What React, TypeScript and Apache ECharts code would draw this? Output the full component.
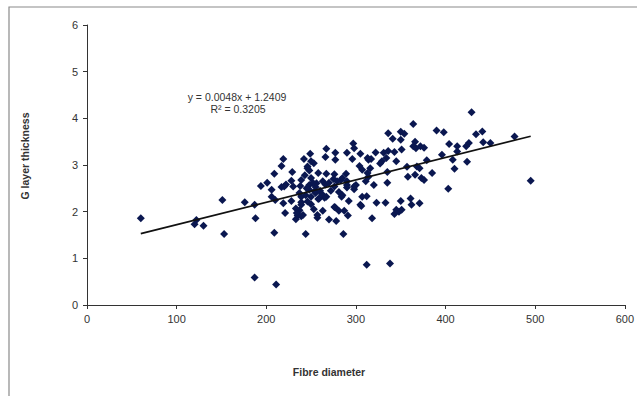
import React, { useEffect, useRef } from "react";
import * as echarts from "echarts";

const fibreDiameter = [
  60, 122, 120, 130, 153, 151, 176, 187, 188, 187, 211, 209, 210, 221, 244, 233, 235, 237, 233, 239,
  228, 253, 250, 257, 263, 270, 278, 277, 281, 287, 286, 291, 305, 292, 312, 323, 333, 350, 361, 362,
  371, 318, 343, 348, 351, 312, 338, 265, 259, 284,
  429, 495, 477, 441, 434, 450, 442, 426, 423, 413, 413, 404, 396, 408, 410, 424, 403, 390, 398, 364,
  336, 341, 350, 354, 350, 366, 364, 372, 376, 351, 343, 336, 331, 345, 329, 327, 322, 314, 305, 297,
  298, 290, 296, 277, 277, 267, 266, 317, 304, 313, 307, 335, 357, 358, 368, 371, 379, 385, 373, 376,
  335, 320, 366, 258, 267, 276, 283, 290, 290, 300, 298, 311, 256, 254, 267,
  249, 242, 219, 217, 253, 246, 248, 229, 209, 289, 201, 194, 206, 217, 222, 228, 239, 248, 255, 263,
  275, 285, 258, 250, 239, 219, 206, 234, 239, 276, 306, 307, 250, 246, 250, 220, 230, 237, 248, 266,
  276, 279, 246, 239, 241, 257, 367, 313, 334, 316, 314, 285, 290, 298, 345,
  243, 252, 245, 238, 255, 244, 260, 270, 272, 262, 281,
];

const gLayerThickness = [
  1.86, 1.82, 1.73, 1.70, 1.52, 2.25, 2.20, 2.15, 1.86, 0.59, 0.44, 1.55, 2.25, 1.97, 1.52, 1.84, 1.92, 2.03, 2.07, 2.20,
  2.23, 2.05, 2.16, 1.87, 2.02, 1.83, 1.80, 2.09, 2.02, 2.02, 1.52, 1.92, 2.15, 2.23, 2.33, 2.19, 2.19, 2.23, 2.28, 2.15,
  2.18, 1.86, 1.95, 2.00, 2.04, 0.86, 0.89, 2.30, 2.28, 2.32,
  4.13, 2.66, 3.61, 3.72, 3.66, 3.47, 3.49, 3.47, 3.40, 3.40, 3.29, 3.45, 3.22, 3.11, 2.92, 3.07, 2.49, 3.74, 3.70, 3.88,
  3.68, 3.56, 3.71, 3.67, 3.54, 3.50, 3.40, 3.40, 3.37, 3.33, 3.28, 3.30, 3.26, 3.08, 3.08, 3.03, 3.27, 3.11, 3.24, 3.46,
  3.36, 3.26, 3.13, 3.26, 3.11, 3.35, 3.17, 3.13, 2.98, 2.83, 2.90, 2.85, 2.96, 2.75, 2.97, 2.93, 3.10, 2.83, 2.72, 2.68,
  2.62, 2.57, 2.79, 2.83, 2.81, 2.80, 2.68, 2.65, 2.52, 2.57, 2.48, 2.65, 2.61, 2.43, 2.32,
  3.24, 3.13, 3.13, 2.98, 3.04, 2.97, 2.88, 2.85, 2.81, 2.81, 2.62, 2.55, 2.47, 2.53, 2.58, 2.66, 2.68, 2.57, 2.53, 2.65,
  2.70, 2.35, 2.27, 2.32, 2.32, 2.18, 2.32, 1.97, 1.90, 2.10, 2.12, 2.32, 3.08, 2.93, 2.72, 2.54, 2.54, 2.40, 2.47, 2.58,
  2.54, 2.65, 2.22, 2.15, 1.93, 1.93, 3.36, 3.15, 3.15, 2.93, 2.75, 2.72, 2.57, 2.54, 2.04,
  2.78, 2.62, 2.50, 2.55, 2.40, 2.35, 2.45, 2.62, 2.45, 2.38, 2.42,
];

const xTicks = { min: 0, max: 600, interval: 100 };
const yTicks = { min: 0, max: 6, interval: 1 };
const trendSlope = 0.0048;
const trendIntercept = 1.2409;
const trendRange = [60, 495];
const equationLines = ["y = 0.0048x + 1.2409", "R\u00B2 = 0.3205"];

export default function App() {
  const ref = useRef<HTMLDivElement>(null);
  useEffect(() => {
    if (!ref.current) return;
    const chart = echarts.init(ref.current, undefined, { renderer: "svg" });
    const points = fibreDiameter.map((x, i) => [x, gLayerThickness[i]]);
    const trend = trendRange.map((x) => [x, +(trendSlope * x + trendIntercept).toFixed(4)]);
    const font = "Arial, 'Liberation Sans', sans-serif";
    chart.setOption({
      animation: false,
      backgroundColor: "#ffffff",
      grid: { left: 87, right: 7, top: 25, bottom: 91 },
      xAxis: {
        type: "value",
        min: xTicks.min,
        max: xTicks.max,
        interval: xTicks.interval,
        axisLine: { show: true, lineStyle: { color: "#333", width: 1 } },
        axisTick: { show: true, length: 4, lineStyle: { color: "#333" } },
        splitLine: { show: false },
        axisLabel: { color: "#333", fontSize: 11, fontFamily: font, margin: 8 },
      },
      yAxis: {
        type: "value",
        min: yTicks.min,
        max: yTicks.max,
        interval: yTicks.interval,
        axisLine: { show: true, lineStyle: { color: "#333", width: 1 } },
        axisTick: { show: true, length: 4, lineStyle: { color: "#333" } },
        splitLine: { show: false },
        axisLabel: { color: "#333", fontSize: 11, fontFamily: font, margin: 9 },
      },
      series: [
        {
          type: "scatter",
          data: points,
          symbol: "diamond",
          symbolSize: 8,
          itemStyle: { color: "#0a1750", opacity: 1 },
          z: 2,
        },
        {
          type: "line",
          data: trend,
          showSymbol: false,
          symbol: "none",
          lineStyle: { color: "#111", width: 1.7 },
          z: 3,
        },
      ],
      graphic: [
        {
          type: "rect",
          shape: { x: 9, y: 7, width: 700, height: 500 },
          style: { fill: "none", stroke: "#8a8a8a", lineWidth: 1.2 },
          silent: true,
        },
        {
          type: "text",
          x: 237,
          y: 97,
          style: { text: equationLines[0], fill: "#333", fontSize: 10.5, fontFamily: font, textAlign: "center", textVerticalAlign: "middle" },
        },
        {
          type: "text",
          x: 238,
          y: 109,
          style: { text: equationLines[1], fill: "#333", fontSize: 10.5, fontFamily: font, textAlign: "center", textVerticalAlign: "middle" },
        },
        {
          type: "text",
          x: 329,
          y: 372,
          style: { text: "Fibre diameter", fill: "#333", fontSize: 10.5, fontWeight: "bold", fontFamily: font, textAlign: "center", textVerticalAlign: "middle" },
        },
        {
          type: "text",
          x: 25,
          y: 156,
          rotation: Math.PI / 2,
          style: { text: "G layer thickness", fill: "#333", fontSize: 10.5, fontWeight: "bold", fontFamily: font, textAlign: "center", textVerticalAlign: "middle" },
        },
      ],
    });
    return () => chart.dispose();
  }, []);
  return <div ref={ref} style={{ position: "fixed", left: 0, top: 0, width: 637, height: 396 }} />;
}
